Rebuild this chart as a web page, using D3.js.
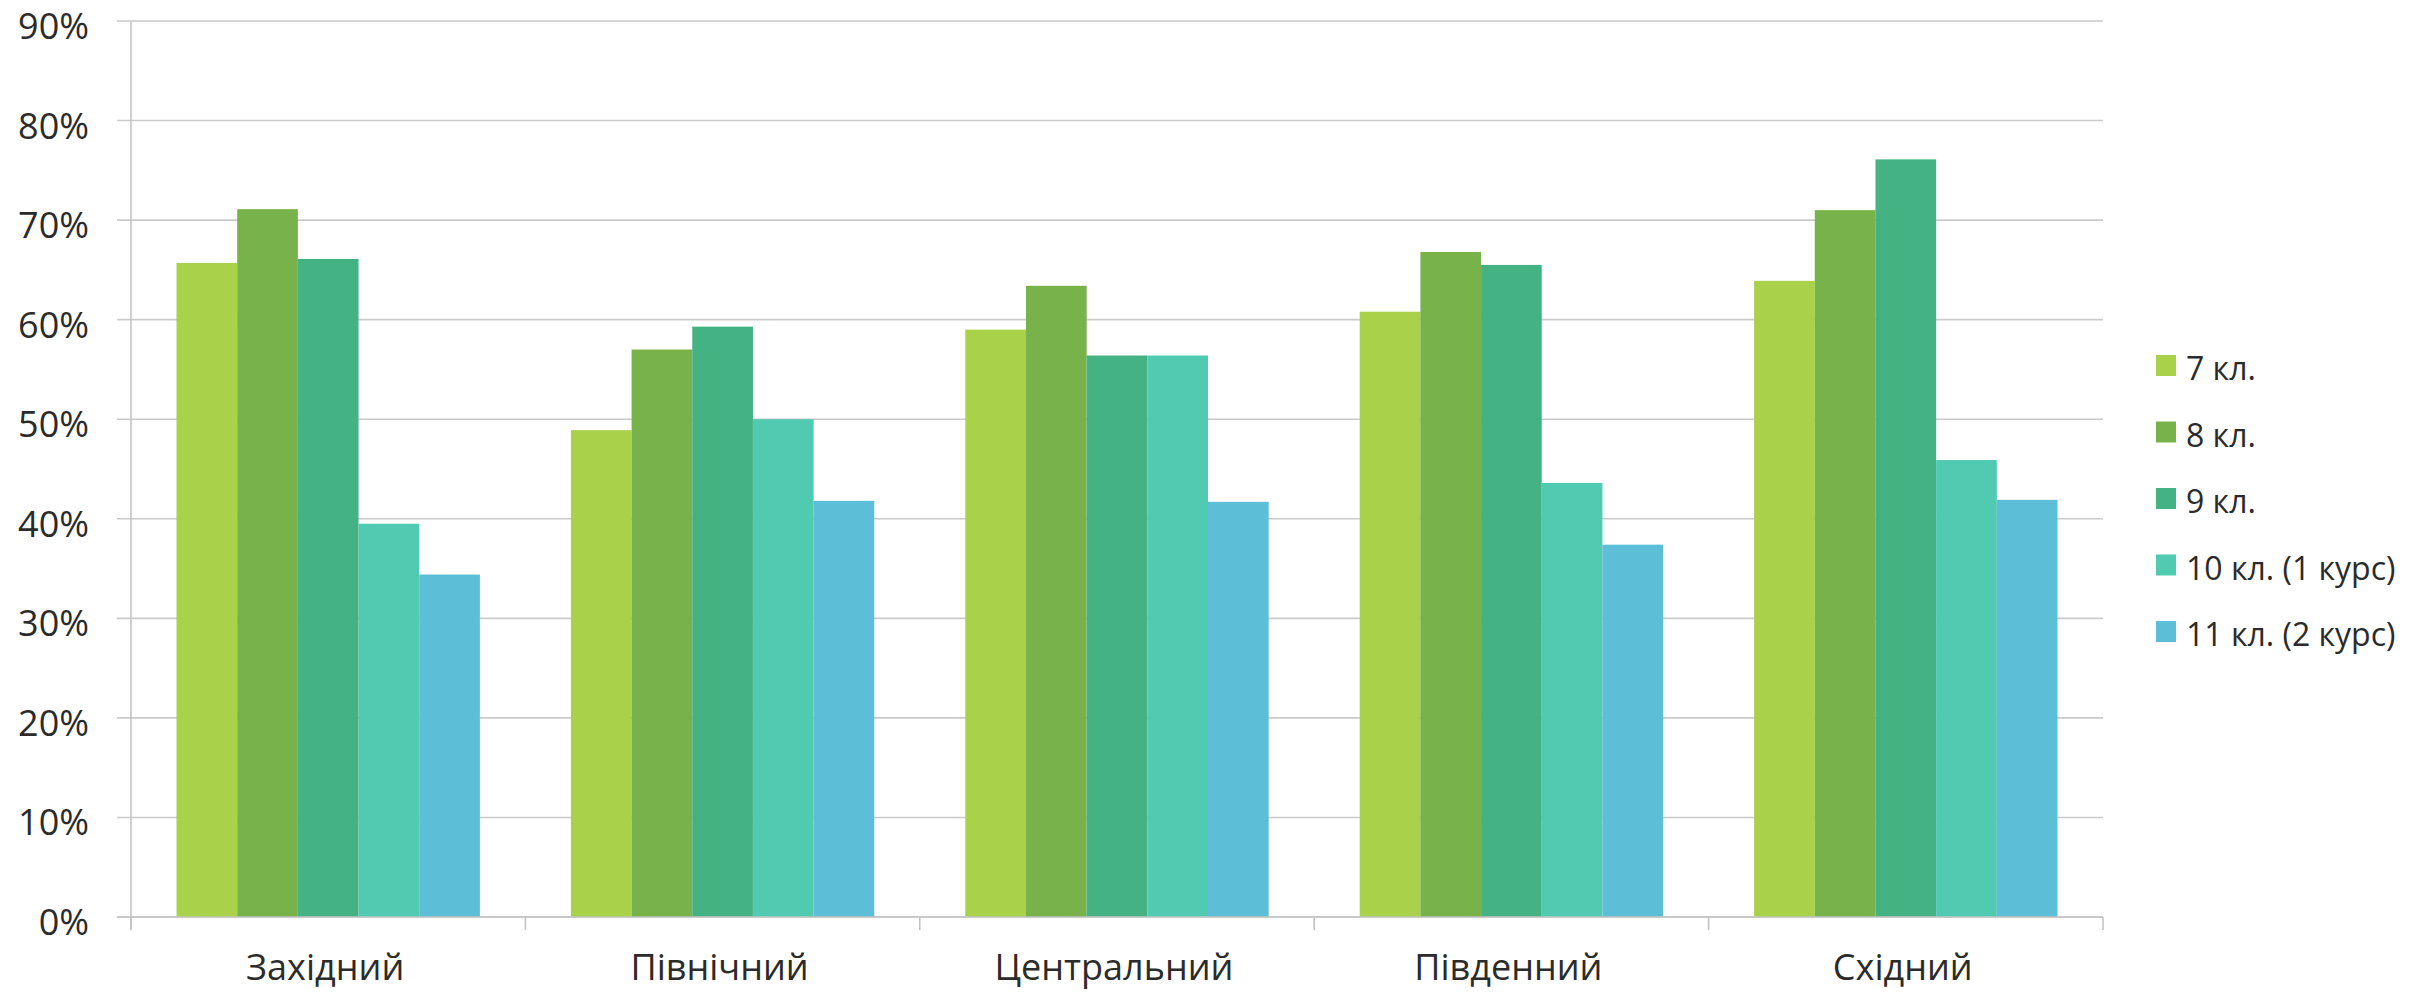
<!DOCTYPE html>
<html>
<head>
<meta charset="utf-8">
<script src="https://cdn.jsdelivr.net/npm/d3@7"></script>
<style>
  html, body { margin: 0; padding: 0; background: #ffffff; }
  svg { display: block; }
  text { font-family: "Open Sans", "Noto Sans", sans-serif; fill: #2b2b2b; }
</style>
</head>
<body>
<svg id="chart" width="2412" height="994"></svg>
<script>
const regions = ["Західний", "Північний", "Центральний", "Південний", "Східний"];
const seriesNames = ["7 кл.", "8 кл.", "9 кл.", "10 кл. (1 курс)", "11 кл. (2 курс)"];
const seriesColors = ["#a9d14a", "#77b24a", "#44b283", "#51cab2", "#5cbfd7"];
const grade7  = [0.657, 0.489, 0.590, 0.608, 0.639];
const grade8  = [0.711, 0.570, 0.634, 0.668, 0.710];
const grade9  = [0.661, 0.593, 0.564, 0.655, 0.761];
const grade10 = [0.395, 0.500, 0.564, 0.436, 0.459];
const grade11 = [0.344, 0.418, 0.417, 0.374, 0.419];
const seriesValues = [grade7, grade8, grade9, grade10, grade11];
const yTicks = [0, 0.1, 0.2, 0.3, 0.4, 0.5, 0.6, 0.7, 0.8, 0.9];

(function () {
const svg = d3.select("#chart");
const mLeft = 131, mRight = 2103, mTop = 21, mBottom = 917;

const x = d3.scaleBand().domain(regions).range([mLeft, mRight]).paddingInner(0).paddingOuter(0);
const xs = d3.scaleBand().domain(seriesNames).range([0, x.bandwidth()]).paddingInner(0).paddingOuter(0.75);
const y = d3.scaleLinear().domain([0, 0.9]).range([mBottom, mTop]);

// gridlines
svg.append("g").selectAll("line").data(yTicks).join("line")
  .attr("x1", mLeft - 14).attr("x2", mRight)
  .attr("y1", d => y(d)).attr("y2", d => y(d))
  .attr("stroke", "#cacaca").attr("stroke-width", 1.6);

// y-axis line
svg.append("line").attr("x1", mLeft).attr("x2", mLeft)
  .attr("y1", y(0.9)).attr("y2", mBottom + 13)
  .attr("stroke", "#c4c4c4").attr("stroke-width", 1.6);

// category ticks
const bounds = regions.map(r => x(r)).concat([mRight]);
svg.append("g").selectAll("line").data(bounds).join("line")
  .attr("x1", d => d).attr("x2", d => d)
  .attr("y1", mBottom).attr("y2", mBottom + 13)
  .attr("stroke", "#c4c4c4").attr("stroke-width", 1.6);

// y labels
svg.append("g").selectAll("text").data(yTicks).join("text")
  .attr("x", 89).attr("y", d => y(d) + 18)
  .attr("text-anchor", "end")
  .attr("font-size", 36)
  .text(d => d3.format(".0%")(d));

// bars
const groups = svg.append("g").selectAll("g").data(seriesNames).join("g")
  .attr("fill", (d, i) => seriesColors[i]);
groups.each(function (s, si) {
  d3.select(this).selectAll("rect").data(seriesValues[si]).join("rect")
    .attr("x", (d, i) => x(regions[i]) + xs(s))
    .attr("width", xs.bandwidth())
    .attr("y", d => y(d))
    .attr("height", d => y(0) - y(d));
});

// bottom axis line on top
svg.append("line").attr("x1", mLeft - 14).attr("x2", mRight)
  .attr("y1", mBottom).attr("y2", mBottom)
  .attr("stroke", "#c4c4c4").attr("stroke-width", 1.6);

// x labels
svg.append("g").selectAll("text").data(regions).join("text")
  .attr("x", d => x(d) + x.bandwidth() / 2 - 3)
  .attr("y", 980)
  .attr("text-anchor", "middle")
  .attr("font-size", 36)
  .text(d => d);

// legend
const lg = svg.append("g").selectAll("g").data(seriesNames).join("g")
  .attr("transform", (d, i) => `translate(2156, ${355 + i * 66.5})`);
lg.append("rect").attr("width", 20).attr("height", 21)
  .attr("fill", (d, i) => seriesColors[i]);
lg.append("text").attr("x", 30).attr("y", 25)
  .attr("font-size", 32)
  .text(d => d);
})();
</script>
</body>
</html>
